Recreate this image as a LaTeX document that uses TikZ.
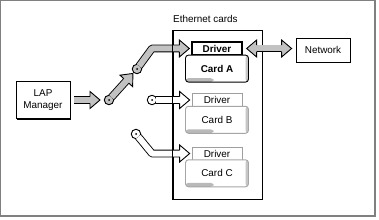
\documentclass[tikz,border=0pt]{standalone}
\usepackage{fontspec}
\setmainfont{Liberation Sans}
\usepackage{tikz}
\usetikzlibrary{calc,positioning,shadows}
\definecolor{armgray}{gray}{0.76}
\definecolor{framegray}{gray}{0.5}
\tikzset{
  blockbox/.style={
    draw,
    fill=white,
    line width=0.8pt,
    inner sep=1pt,
    align=center,
    drop shadow={shadow xshift=1pt, shadow yshift=-1pt, fill=black, opacity=1},
  },
  cardsbox/.style={
    draw,
    fill=white,
    line width=1pt,
    minimum width=89pt,
    minimum height=168pt,
    drop shadow={shadow xshift=1pt, shadow yshift=-1pt, fill=black, opacity=1},
  },
  drvtab/.style={
    draw=#1,
    fill=white,
    line width=0.7pt,
    minimum width=50pt,
    minimum height=13pt,
    inner sep=0pt,
    drop shadow={shadow xshift=1pt, shadow yshift=-1pt, fill=#1, opacity=1},
  },
  cardbody/.style={
    draw=#1,
    fill=white,
    rounded corners=3pt,
    line width=0.9pt,
    minimum width=63pt,
    minimum height=27pt,
    inner sep=0pt,
    path picture={
      \fill[gray!55] (path picture bounding box.south west) rectangle ([xshift=28pt,yshift=4pt]path picture bounding box.south west);
      \fill[gray!45] ([xshift=-3pt]path picture bounding box.north east) rectangle (path picture bounding box.south east);
    },
  },
  pivot/.style={
    circle,
    draw,
    line width=0.9pt,
    fill=#1,
    minimum size=9.5pt,
    inner sep=0pt,
    path picture={\fill[black] (path picture bounding box.center) circle (1pt);},
  },
  arm/.style={draw=black, double=#1, double distance=6pt, line width=0.9pt, line join=round, shorten >=9.5pt},
}
\newcommand{\armhead}[3]{%
  \filldraw[fill=#3, line width=0.9pt, line join=miter]
    ($(#1)!10pt!(#2)!3.4pt!90:(#2)$) -- ($(#1)!10pt!(#2)!8.5pt!90:(#2)$) -- (#1)
    -- ($(#1)!10pt!(#2)!8.5pt!-90:(#2)$) -- ($(#1)!10pt!(#2)!3.4pt!-90:(#2)$);}

\begin{document}
\begin{tikzpicture}[x=1pt, y=-1pt, font=\fontsize{9.9}{12.3}\selectfont]
  \useasboundingbox (0,0) rectangle (379,219);
  \draw[framegray, line width=1pt] (0.5,216) -- (0.5,0.5) -- (375,0.5);
  \draw[framegray, line width=2pt] (375,0) -- (375,216) -- (0,216);
  \node[blockbox, minimum width=54pt, minimum height=37pt] (lap) at (43,100) {LAP\\Manager};
  \node[cardsbox] (cards) at (217.5,115) {};
  \node[anchor=base west, inner sep=0pt] (cardslbl) at (173,22.5) {Ethernet cards};
  \node[drvtab=black, line width=1.3pt] (drvA) at (217,48.5) {\bfseries Driver};
  \node[cardbody=black, below=-1pt of drvA] (cardA) {\bfseries Card A};
  \node[drvtab=gray!75] (drvB) at (217,100) {Driver};
  \node[cardbody=gray!70, below=-1pt of drvB] (cardB) {Card B};
  \node[drvtab=gray!75] (drvC) at (217,153.5) {Driver};
  \node[cardbody=gray!70, below=-1pt of drvC] (cardC) {Card C};
  \node[blockbox, minimum width=54pt, minimum height=24pt] (net) at (323,50) {Network};
  \node[pivot=armgray] (sw1) at (109,100) {};
  \node[pivot=armgray] (sw2) at (137,69) {};
  \node[pivot=white] (swB) at (152,100) {};
  \node[pivot=white] (swC) at (136,134) {};
  \coordinate (t0) at ($(sw1)!9pt!(lap)$);
  \coordinate (t1) at ($(sw2)!6pt!(sw1)$);
  \coordinate (tipA) at ($(drvA.west)+(-2,0)$);
  \coordinate (bendA) at (tipA -| swB);
  \coordinate (tipB) at ($(drvB.west)+(-2,0)$);
  \coordinate (tipC) at ($(drvC.west)+(-2,0)$);
  \coordinate (bendC) at (tipC -| swB);
  \coordinate (t2) at ($(drvA.east)+(4,0)$);
  \coordinate (t3) at ($(net.west |- drvA.east)+(-4,0)$);
  \draw[arm=armgray, shorten <=4pt] (lap) -- (t0);
  \armhead{t0}{lap}{armgray}
  \draw[arm=armgray, shorten <=-1.5pt] (sw1) -- (t1);
  \armhead{t1}{sw1}{armgray}
  \draw[arm=armgray, shorten <=-1.5pt] (sw2) -- (bendA) -- (tipA);
  \armhead{tipA}{bendA}{armgray}
  \draw[arm=white, shorten <=-1.5pt] (swB) -- (tipB);
  \armhead{tipB}{swB}{white}
  \draw[arm=white, shorten <=-1.5pt] (swC) -- (bendC) -- (tipC);
  \armhead{tipC}{bendC}{white}
  \draw[arm=armgray, shorten <=9.5pt] (t2) -- (t3);
  \armhead{t2}{t3}{armgray}
  \armhead{t3}{t2}{armgray}
  \draw[line width=1pt] (cards.north west) -- (cards.south west);
\end{tikzpicture}
\end{document}
